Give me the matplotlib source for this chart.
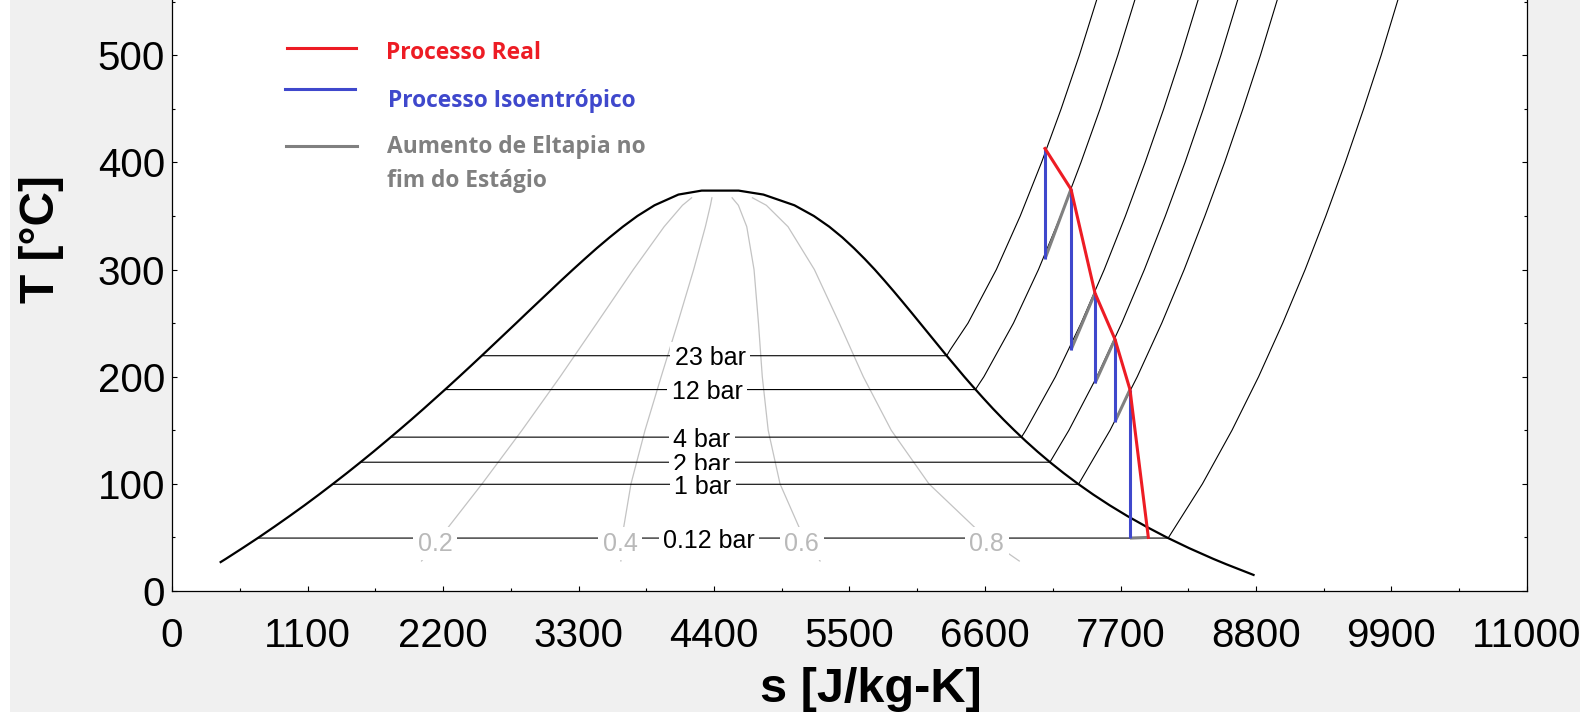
import matplotlib
matplotlib.use('Agg')
import matplotlib.pyplot as plt
from matplotlib.ticker import MultipleLocator
from matplotlib.patches import Rectangle

# saturation dome (s in J/kg-K, T in C)
dome_s = [395, 437, 572, 704, 831, 955, 1076, 1193, 1307, 1419, 1528, 1635, 1739, 1842,
          1943, 2042, 2139, 2236, 2331, 2425, 2518, 2610, 2702, 2794, 2885, 2977, 3069,
          3161, 3255, 3351, 3449, 3552, 3660, 3778, 3917, 4111, 4300,
          4600, 4801, 5053, 5211, 5336, 5442, 5536, 5623, 5705, 5782, 5857, 5930, 6002,
          6073, 6144, 6215, 6286, 6359, 6432, 6508, 6586, 6666, 6750, 6838, 6930, 7027,
          7130, 7239, 7355, 7479, 7612, 7755, 7910, 8076, 8257, 8453, 8558, 8780]
dome_T = [27, 30, 40, 50, 60, 70, 80, 90, 100, 110, 120, 130, 140, 150,
          160, 170, 180, 190, 200, 210, 220, 230, 240, 250, 260, 270, 280,
          290, 300, 310, 320, 330, 340, 350, 360, 370, 373.7,
          373.7, 370, 360, 350, 340, 330, 320, 310, 300, 290, 280, 270, 260,
          250, 240, 230, 220, 210, 200, 190, 180, 170, 160, 150, 140, 130,
          120, 110, 100, 90, 80, 70, 60, 50, 40, 30, 25, 15]

# quality lines
quality_T = [28, 50, 100, 150, 200, 250, 300, 340, 360, 367]
x02_s = [2026, 2178, 2517, 2841, 3151, 3449, 3745, 3995, 4144, 4218]
x04_s = [3644, 3653, 3726, 3840, 3971, 4105, 4235, 4330, 4371, 4383]
x06_s = [5261, 5127, 4936, 4840, 4792, 4761, 4725, 4666, 4598, 4547]
x08_s = [6878, 6602, 6145, 5839, 5612, 5417, 5215, 5001, 4825, 4712]
quality_labels = ['0.2', '0.4', '0.6', '0.8']
quality_label_s = [2135, 3637, 5112, 6614]
quality_label_T = 46.5

# isobars
p23_T = [219.6, 219.6, 225, 250, 300, 350, 400, 450, 500, 600]
p23_s = [2514, 6289, 6317, 6462, 6692, 6886, 7059, 7218, 7366, 7638]
p12_T = [188.0, 188.0, 200, 250, 300, 350, 400, 450, 500, 600]
p12_s = [2217, 6522, 6591, 6831, 7034, 7214, 7379, 7534, 7678, 7946]
p4_T = [143.6, 143.6, 150, 200, 250, 300, 350, 400, 450, 500, 600]
p4_s = [1777, 6896, 6931, 7172, 7380, 7568, 7740, 7900, 8051, 8193, 8458]
p2_T = [120.2, 120.2, 150, 200, 250, 300, 350, 400, 450, 500, 600]
p2_s = [1530, 7127, 7281, 7508, 7710, 7894, 8064, 8224, 8373, 8515, 8779]
p1_T = [99.6, 99.6, 150, 200, 250, 300, 350, 400, 450, 500, 600]
p1_s = [1303, 7359, 7615, 7836, 8035, 8217, 8385, 8545, 8694, 8836, 9100]
p012_T = [49.4, 49.4, 100, 150, 200, 250, 300, 350, 400, 450, 500, 600]
p012_s = [696, 8087, 8365, 8605, 8821, 9017, 9199, 9367, 9525, 9674, 9816, 10079]
bar_labels = ['23 bar', '12 bar', '4 bar', '2 bar', '1 bar', '0.12 bar']
bar_label_s = [4368, 4343, 4300, 4300, 4307, 4360]
bar_label_T = [219.6, 188.0, 143.6, 120.2, 99.6, 49.4]

# turbine stages
real_s = [7087, 7298, 7493, 7655, 7777, 7926]
real_T = [413, 375, 278, 235, 188, 50]
isen_T = [310, 225, 194, 158, 49.4]

fig = plt.figure(figsize=(15.8, 7.12), dpi=100, facecolor='#f0f0f0')
fig.add_artist(Rectangle((0, 0), 10 / 1580, 1, transform=fig.transFigure, fc='white', ec='none', zorder=0))
ax = fig.add_axes([172 / 1580, 121 / 712, 1355 / 1580, 591 / 712])
ax.set_facecolor('white')

ax.plot(dome_s, dome_T, color='black', lw=1.6, zorder=2)

for qs in [x02_s, x04_s, x06_s, x08_s]:
    ax.plot(qs, quality_T, color='#c3c3c3', lw=0.9, zorder=1)

for ps, pT in [(p23_s, p23_T), (p12_s, p12_T), (p4_s, p4_T), (p2_s, p2_T), (p1_s, p1_T), (p012_s, p012_T)]:
    ax.plot(ps, pT, color='black', lw=0.8, zorder=1)

box = dict(boxstyle='square,pad=0.18', fc='white', ec='none')
# lower labels drawn over upper ones, so 1 bar clips the foot of 2 bar
for i, (lab, s, T) in enumerate(zip(bar_labels, bar_label_s, bar_label_T)):
    ax.text(s, T, lab, fontsize=18, family='Liberation Sans', ha='center', va='center_baseline',
            bbox=box, zorder=3 + 0.1 * i)
for lab, s in zip(quality_labels, quality_label_s):
    ax.text(s, quality_label_T, lab, fontsize=18, family='Liberation Sans', color='#b9b9b9',
            ha='center', va='center_baseline', bbox=box, zorder=3)

# process
for i in range(len(isen_T)):
    ax.plot([real_s[i], real_s[i + 1]], [isen_T[i], real_T[i + 1]], color='#808080', lw=2.2, zorder=4,
            solid_capstyle='butt')
    ax.plot([real_s[i], real_s[i]], [real_T[i], isen_T[i]], color='#3f48cc', lw=2.2, zorder=5,
            solid_capstyle='butt')
ax.plot(real_s, real_T, color='#ed1c24', lw=2.2, zorder=6)

# legend drawn by hand
leg_font = dict(family='Open Sans', weight='bold', fontsize=16.4, va='center', transform=ax.transAxes)
ax.plot([0.0846, 0.1355], [0.9183, 0.9183], color='#ed1c24', lw=2.2, transform=ax.transAxes)
ax.plot([0.0834, 0.1350], [0.8489, 0.8489], color='#3f48cc', lw=2.2, transform=ax.transAxes)
ax.plot([0.0841, 0.1365], [0.7530, 0.7530], color='#808080', lw=2.2, transform=ax.transAxes)
ax.text(0.1579, 0.9110, 'Processo Real', color='#ed1c24', **leg_font)
ax.text(0.1594, 0.8290, 'Processo Isoentrópico', color='#3f48cc', **leg_font)
ax.text(0.1587, 0.7225, 'Aumento de Eltapia no\nfim do Estágio', color='#808080',
        linespacing=1.6, **leg_font)

ax.set_xlim(0, 11000)
ax.set_ylim(0, 551.6)
ax.xaxis.set_major_locator(MultipleLocator(1100))
ax.xaxis.set_minor_locator(MultipleLocator(550))
ax.yaxis.set_major_locator(MultipleLocator(100))
ax.yaxis.set_minor_locator(MultipleLocator(50))
ax.tick_params(which='both', direction='in', right=True, top=False)
ax.tick_params(which='major', length=3.5, width=0.8)
ax.tick_params(which='minor', length=2.2, width=0.8)
ax.tick_params(axis='x', pad=19)
ax.tick_params(axis='y', pad=5)
for lab in ax.get_xticklabels() + ax.get_yticklabels():
    lab.set_fontfamily('Liberation Sans')
    lab.set_fontsize(29)
ax.spines['top'].set_visible(False)
for sp in ['left', 'right', 'bottom']:
    ax.spines[sp].set_linewidth(0.9)

ax.set_xlabel('s [J/kg-K]', fontsize=35, fontweight='bold', family='Liberation Sans', va='center')
ax.xaxis.set_label_coords(0.516, -0.1675)
ax.set_ylabel('T [°C]', fontsize=34.5, fontweight='bold', family='Liberation Sans', va='center')
ax.yaxis.set_label_coords(-0.096, 0.596)

fig.savefig('out.png', dpi=100, facecolor=fig.get_facecolor())
